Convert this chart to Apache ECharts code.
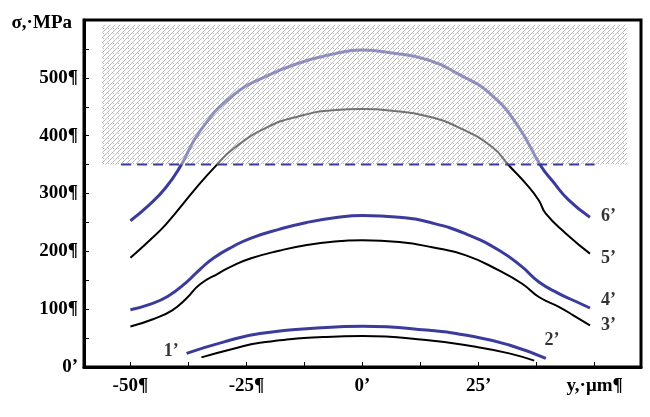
<!DOCTYPE html>
<html>
<head>
<meta charset="utf-8">
<script src="https://cdn.jsdelivr.net/npm/echarts@6/dist/echarts.min.js"></script>
<style>
html, body { margin: 0; padding: 0; background: #fff; }
#chart { width: 650px; height: 417px; }
</style>
</head>
<body>
<div id="chart"></div>
<script>
// stress profiles, sigma (MPa) against y (um)
var curve1 = [[-34.7,16.7],[-28,31],[-22.1,42],[-7.8,52],[0,53.5],[13.7,46.5],[24.4,35],[31.6,23.6],[37,11]];
var curve2 = [[-37.9,23.6],[-30,43],[-22.1,58],[-7.8,68.4],[0,70.5],[13.7,63.8],[24.4,52],[31.6,38],[39.5,15]];
var curve3 = [[-50,70],[-45,83],[-41,98],[-38,118],[-35,143],[-31,162],[-28,175],[-24,188],[-18,201],[-12,211],[-6,217],[0,219],[7.9,216],[15,207],[22.3,193],[29.4,167],[34.4,144],[38,121],[42.3,104],[45.5,89],[49,72]];
var curve4 = [[-50,99],[-46,108],[-42,122],[-38,146],[-35,169],[-32,189],[-28,208],[-24,223],[-18,238],[-12,250],[-6,258],[0,262],[7.9,259],[15,249],[22.3,230],[29.4,202],[34.4,173],[38,147],[42.3,127],[45.5,115],[49,102]];
var curve5 = [[-50,189],[-46,218],[-42.2,248],[-35.7,311],[-31.8,346],[-27.9,377],[-20.7,414],[-13.5,434],[-6.4,444],[0,446],[6.4,443],[13.7,434],[20.8,414],[28,380],[31.6,348],[35.2,317],[38,288],[39.5,265],[43.8,231],[49,196]];
var curve6 = [[-50,253],[-46,280],[-42.5,309],[-39.3,346],[-35,408],[-28,469],[-20.7,503],[-13.5,526],[-6.4,541],[0,548],[6.4,543],[13.7,532],[20.8,506],[28,469],[33.7,414],[38.4,348],[40.9,322],[44.5,288],[49,259]];

var yieldLine = [[-52,350],[50,350]];
var hatchBox = [[-56.1,350,57,592]];

var curveLabels = [[-41.2,27.6,'1’'],[40.8,46.5,'2’'],[53,72,'3’'],[53,115,'4’'],[53,188,'5’'],[53,260,'6’']];

var xTicks = [-50,-37.5,-25,-12.5,0,12.5,25,37.5,50];
var xLabelValues = [-50,-25,0,25,50];
var xLabelText = ['-50¶','-25¶','0’','25’','y,·μm¶'];
var yLabelText = {0:'0’',100:'100¶',200:'200¶',300:'300¶',400:'400¶',500:'500¶'};

var blue = '#3b3b9c';
var font = 'Liberation Serif';

function hatchPattern(){
	var c = document.createElement('canvas');
	c.width = 5; c.height = 5;
	var ctx = c.getContext('2d');
	ctx.fillStyle = 'rgba(255,255,255,0.45)';
	ctx.fillRect(0,0,5,5);
	ctx.strokeStyle = 'rgba(110,110,110,0.6)';
	ctx.lineWidth = 0.8;
	ctx.beginPath();
	ctx.moveTo(0,5); ctx.lineTo(5,0);
	ctx.moveTo(-1,1); ctx.lineTo(1,-1);
	ctx.moveTo(4,6); ctx.lineTo(6,4);
	ctx.stroke();
	ctx.fillStyle = 'rgba(130,130,130,0.55)';
	ctx.fillRect(3,3,1,1);
	return c;
}
var hatchFill = { image: hatchPattern(), repeat: 'repeat' };

var myChart = echarts.init(document.getElementById('chart'));

function curve(data, color, width){
	return {
		type: 'line',
		data: data,
		symbol: 'none',
		smooth: 0.5,
		z: 2,
		lineStyle: { color: color, width: width },
		silent: true
	};
}

var option = {
	animation: false,
	grid: { left: 84, right: 9, top: 20, bottom: 50, show: true, borderColor: '#000', borderWidth: 3, outerBoundsMode: 'none' },
	xAxis: {
		type: 'value',
		min: -60,
		max: 60,
		splitLine: { show: false },
		axisLine: { onZero: false, lineStyle: { color: '#000', width: 3 } },
		axisTick: { inside: true, length: 5, customValues: xTicks, lineStyle: { color: '#000', width: 1 } },
		axisLabel: {
			customValues: xLabelValues,
			margin: 10,
			color: '#000',
			fontFamily: font,
			fontWeight: 'bold',
			fontSize: 19,
			formatter: function(v){ return xLabelText[xLabelValues.indexOf(v)]; }
		}
	},
	yAxis: {
		type: 'value',
		min: 0,
		max: 600,
		interval: 50,
		name: 'σ,·MPa',
		nameLocation: 'end',
		nameGap: -3,
		nameTextStyle: { color: '#000', fontFamily: font, fontWeight: 'bold', fontSize: 19, align: 'right', verticalAlign: 'middle', padding: [0, 12, 0, 0] },
		splitLine: { show: false },
		axisLine: { onZero: false, lineStyle: { color: '#000', width: 3 } },
		axisTick: { inside: true, length: 5, lineStyle: { color: '#000', width: 1 } },
		axisLabel: {
			margin: 6,
			color: '#000',
			fontFamily: font,
			fontWeight: 'bold',
			fontSize: 19,
			formatter: function(v){ return yLabelText[v] || ''; }
		}
	},
	series: [
		curve(curve1, '#000', 2),
		curve(curve2, blue, 3),
		curve(curve3, '#000', 2),
		curve(curve4, blue, 3),
		curve(curve5, '#000', 2),
		curve(curve6, blue, 3),
		{
			type: 'custom',
			data: hatchBox,
			z: 8,
			silent: true,
			encode: { x: [0, 2], y: [1, 3] },
			renderItem: function(params, api){
				var p0 = api.coord([api.value(0), api.value(3)]);
				var p1 = api.coord([api.value(2), api.value(1)]);
				return {
					type: 'rect',
					shape: { x: p0[0], y: p0[1], width: p1[0] - p0[0], height: p1[1] - p0[1] },
					style: { fill: hatchFill, stroke: null }
				};
			}
		},
		{
			type: 'line',
			data: yieldLine,
			symbol: 'none',
			z: 9,
			silent: true,
			lineStyle: { color: blue, width: 2, type: [10, 6] }
		},
		{
			type: 'scatter',
			data: curveLabels,
			symbolSize: 0,
			z: 10,
			silent: true,
			label: {
				show: true,
				position: 'inside',
				color: '#000',
				fontFamily: font,
				fontWeight: 'bold',
				fontSize: 18,
				formatter: function(p){ return p.data[2]; }
			}
		}
	]
};

myChart.setOption(option);
</script>
</body>
</html>
